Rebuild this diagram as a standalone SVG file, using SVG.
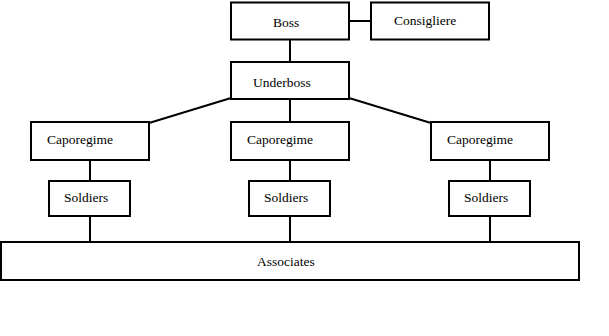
<svg xmlns="http://www.w3.org/2000/svg" width="609" height="336" viewBox="0 0 609 336">
<style>
.box{fill:#fff;stroke:#000;stroke-width:2}
.lbl{font-family:"Liberation Serif","Times New Roman",serif;font-size:13.5px;fill:#000}
.conn line{stroke:#000;stroke-width:2}
</style>
<rect width="609" height="336" fill="#fff"/>
<g class="conn">
<line x1="349" y1="21" x2="371" y2="21"/>
<line x1="290" y1="39" x2="290" y2="62"/>
<line x1="231" y1="98" x2="149" y2="123"/>
<line x1="290" y1="99" x2="290" y2="122"/>
<line x1="349" y1="98" x2="431" y2="123"/>
<line x1="90" y1="160" x2="90" y2="181"/>
<line x1="290" y1="160" x2="290" y2="181"/>
<line x1="490" y1="160" x2="490" y2="181"/>
<line x1="90" y1="216" x2="90" y2="242"/>
<line x1="290" y1="216" x2="290" y2="242"/>
<line x1="490" y1="216" x2="490" y2="242"/>
</g>
<g id="boss"><rect class="box" x="231" y="2.5" width="118" height="37"/><text class="lbl" x="273" y="27">Boss</text></g>
<g id="consigliere"><rect class="box" x="371" y="2.5" width="118" height="37"/><text class="lbl" x="394" y="25">Consigliere</text></g>
<g id="underboss"><rect class="box" x="231" y="62" width="118" height="37"/><text class="lbl" x="253" y="87">Underboss</text></g>
<g id="capo1"><rect class="box" x="31" y="122" width="118" height="38"/><text class="lbl" x="47" y="144">Caporegime</text></g>
<g id="capo2"><rect class="box" x="231" y="122" width="118" height="38"/><text class="lbl" x="247" y="144">Caporegime</text></g>
<g id="capo3"><rect class="box" x="431" y="122" width="118" height="38"/><text class="lbl" x="447" y="144">Caporegime</text></g>
<g id="soldiers1"><rect class="box" x="49" y="181" width="81" height="35"/><text class="lbl" x="64" y="202">Soldiers</text></g>
<g id="soldiers2"><rect class="box" x="249" y="181" width="81" height="35"/><text class="lbl" x="264" y="202">Soldiers</text></g>
<g id="soldiers3"><rect class="box" x="449" y="181" width="81" height="35"/><text class="lbl" x="464" y="202">Soldiers</text></g>
<g id="associates"><rect class="box" x="1" y="242" width="578" height="38"/><text class="lbl" x="257" y="266">Associates</text></g>
</svg>
